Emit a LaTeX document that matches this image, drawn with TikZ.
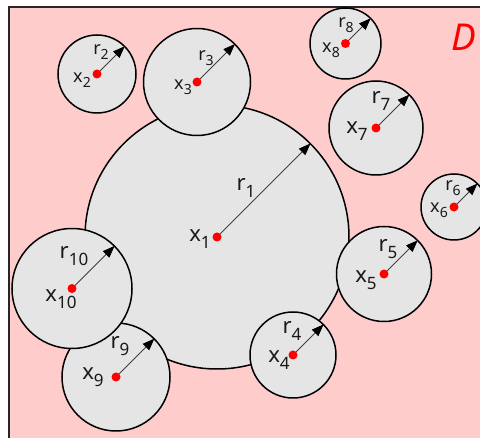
\documentclass[tikz,border=0pt]{standalone}
\usepackage{fontspec}
\setmainfont{Noto Sans}
\usetikzlibrary{arrows.meta}
\definecolor{bgpink}{RGB}{255,204,204}
\definecolor{cgray}{RGB}{229,229,229}
\definecolor{dred}{RGB}{255,0,0}
\newcommand\biglab[2]{\fontsize{22}{22}\selectfont #1\raisebox{-0.3em}{\fontsize{17}{17}\selectfont #2}}
\newcommand\smalllab[2]{\fontsize{18}{18}\selectfont #1\raisebox{-0.3em}{\fontsize{14}{14}\selectfont #2}}
\tikzset{
  disk/.style={circle, draw=black, fill=cgray, line width=1.5pt, inner sep=0pt, minimum size=#1},
  dot/.style={circle, fill=dred, inner sep=0pt, minimum size=9pt},
  rad/.style={draw=black!75, line width=0.8pt, -{Triangle[length=12pt,width=9pt,color=black,fill=black]}, shorten >=0.5pt},
  lab/.style={inner sep=0pt, anchor=center, text=black!90}
}
\begin{document}
\begin{tikzpicture}[x=1pt,y=-1pt]
\useasboundingbox (0,0) rectangle (480,438);
\fill[bgpink] (9,7) rectangle (482,440);
\draw[line width=1.5pt, black!85] (9,440) -- (9,7) -- (482,7);
\node[text=dred, inner sep=0pt, font=\fontsize{37}{37}\selectfont\itshape] (D) at (464,37) {D};
% big circle first
\node[disk=264pt] (c1) at (217,237) {};
\node[disk=78pt] (c2) at (97,74) {};
\node[disk=107pt] (c3) at (197,82) {};
\node[disk=86pt] (c4) at (293,355) {};
\node[disk=95pt] (c5) at (384,274) {};
\node[disk=66pt] (c6) at (454,207) {};
\node[disk=94pt] (c7) at (376,128) {};
\node[disk=71pt] (c8) at (345.5,43.5) {};
\node[disk=108pt] (c9) at (116,377) {};
\node[disk=120pt] (c10) at (72,288.5) {};
% radii
\foreach \i in {1,...,10}{
  \draw[rad] (c\i.center) -- (c\i.45);
  \node[dot] (d\i) at (c\i.center) {};
}
% labels
\node[lab] (x1) at (200,239) {\biglab{x}{1}};
\node[lab] (r1) at (246,188) {\biglab{r}{1}};
\node[lab] (x2) at (82,80) {\smalllab{x}{2}};
\node[lab] (r2) at (101,52) {\smalllab{r}{2}};
\node[lab] (x3) at (183,87) {\smalllab{x}{3}};
\node[lab] (r3) at (206,58) {\smalllab{r}{3}};
\node[lab] (x4) at (279,360) {\biglab{x}{4}};
\node[lab] (r4) at (292,331) {\biglab{r}{4}};
\node[lab] (x5) at (366,280) {\biglab{x}{5}};
\node[lab] (r5) at (388,249) {\biglab{r}{5}};
\node[lab] (x6) at (439,210) {\smalllab{x}{6}};
\node[lab] (r6) at (453,188) {\smalllab{r}{6}};
\node[lab] (x7) at (357,131) {\biglab{x}{7}};
\node[lab] (r7) at (381,101) {\biglab{r}{7}};
\node[lab] (x8) at (331,50) {\smalllab{x}{8}};
\node[lab] (r8) at (346,25) {\smalllab{r}{8}};
\node[lab] (x9) at (93,377) {\biglab{x}{9}};
\node[lab] (r9) at (120,346) {\biglab{r}{9}};
\node[lab] (x10) at (61,299) {\biglab{x}{10}};
\node[lab] (r10) at (74,256) {\biglab{r}{10}};
\end{tikzpicture}
\end{document}
